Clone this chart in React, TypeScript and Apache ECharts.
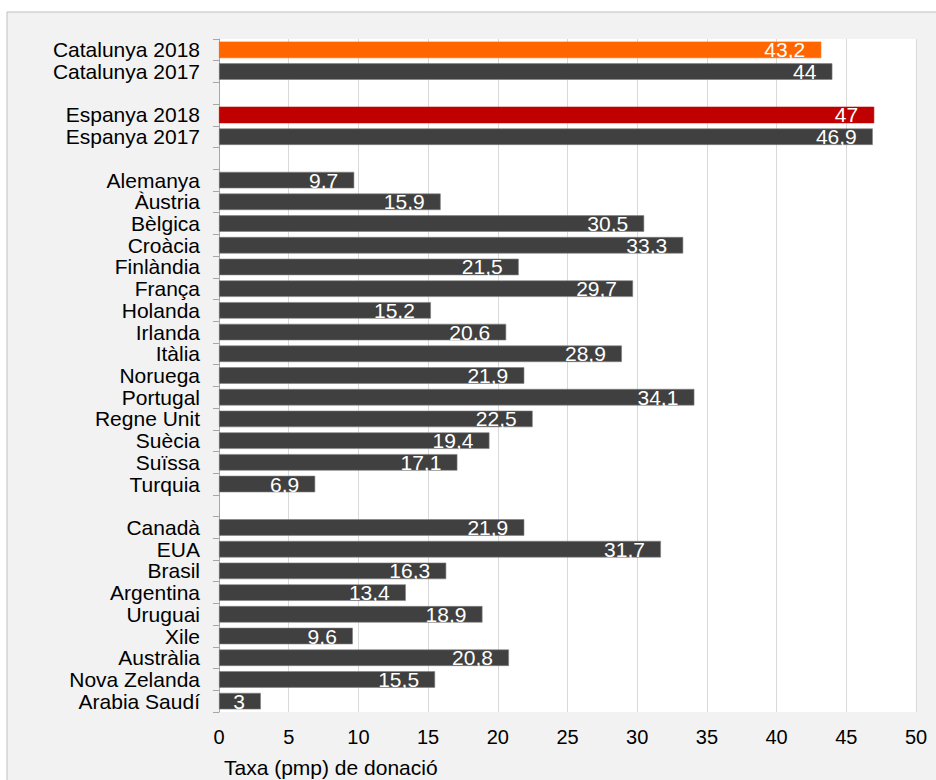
import React, { useEffect, useRef } from "react";
import * as echarts from "echarts";

const categories: string[] = [
  "Catalunya 2018", "Catalunya 2017", "",
  "Espanya 2018", "Espanya 2017", " ",
  "Alemanya", "Àustria", "Bèlgica", "Croàcia", "Finlàndia", "França", "Holanda",
  "Irlanda", "Itàlia", "Noruega", "Portugal", "Regne Unit", "Suècia", "Suïssa", "Turquia",
  "  ",
  "Canadà", "EUA", "Brasil", "Argentina", "Uruguai", "Xile", "Austràlia", "Nova Zelanda", "Arabia Saudí",
];

const values: (number | null)[] = [
  43.2, 44, null,
  47, 46.9, null,
  9.7, 15.9, 30.5, 33.3, 21.5, 29.7, 15.2,
  20.6, 28.9, 21.9, 34.1, 22.5, 19.4, 17.1, 6.9,
  null,
  21.9, 31.7, 16.3, 13.4, 18.9, 9.6, 20.8, 15.5, 3,
];

const xTicks = { min: 0, max: 50, interval: 5 };
const axisTitle = "Taxa (pmp) de donació";

const FONT = "'Liberation Sans', Arial, sans-serif";

export default function App() {
  const ref = useRef<HTMLDivElement>(null);
  useEffect(() => {
    if (!ref.current) return;
    const chart = echarts.init(ref.current, undefined, { renderer: "svg" });
    const colorFor = (name: string) =>
      name === "Catalunya 2018" ? "#FF6600" : name === "Espanya 2018" ? "#C00000" : "#404040";
    chart.setOption({
      animation: false,
      backgroundColor: "#ffffff",
      graphic: [
        {
          type: "rect",
          z: -10,
          silent: true,
          shape: { x: 7, y: 12, width: 960, height: 800 },
          style: { fill: "#F2F2F2", stroke: "#BFBFBF", lineWidth: 1 },
        },
        {
          type: "text",
          left: 224,
          top: 757,
          style: { text: axisTitle, font: `21px ${FONT}`, fill: "#000000" },
        },
      ],
      grid: {
        left: 219,
        top: 39,
        width: 697,
        height: 673,
        show: true,
        backgroundColor: "#FFFFFF",
        borderWidth: 0,
        containLabel: false,
      },
      xAxis: {
        type: "value",
        min: xTicks.min,
        max: xTicks.max,
        interval: xTicks.interval,
        axisLine: { show: false },
        axisTick: { show: false },
        splitLine: { show: true, lineStyle: { color: "#D9D9D9", width: 1 } },
        axisLabel: { fontFamily: FONT, fontSize: 20, color: "#000000", margin: 15 },
      },
      yAxis: {
        type: "category",
        data: categories,
        inverse: true,
        axisLine: { show: true, lineStyle: { color: "#A6A6A6", width: 1 } },
        axisTick: { show: true, length: 6, alignWithLabel: false, lineStyle: { color: "#A6A6A6" } },
        axisLabel: { fontFamily: FONT, fontSize: 21, color: "#000000", margin: 19, interval: 0 },
        splitLine: { show: false },
      },
      series: [
        {
          type: "bar",
          barWidth: "76%",
          data: values.map((v, i) => ({
            value: v,
            itemStyle: {
              color: colorFor(categories[i]),
              borderColor: colorFor(categories[i]) === "#404040" ? "#7F7F7F" : colorFor(categories[i]),
              borderWidth: 0.6,
            },
          })),
          label: {
            show: true,
            position: "insideRight",
            distance: 16,
            color: "#FFFFFF",
            fontFamily: FONT,
            fontSize: 21,
            formatter: (p: any) => (p.value == null ? "" : String(p.value).replace(".", ",")),
          },
        },
      ],
    });
    return () => chart.dispose();
  }, []);
  return (
    <div
      ref={ref}
      style={{ position: "fixed", left: 0, top: 0, width: 936, height: 780 }}
    />
  );
}
